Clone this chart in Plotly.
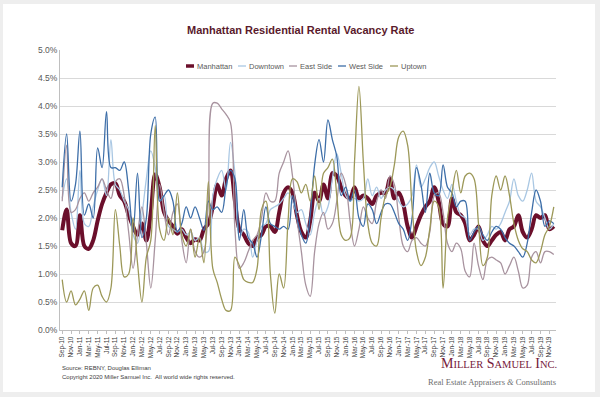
import pandas as pd
import plotly.graph_objects as go

months = list(pd.date_range("2010-09-01", periods=112, freq="MS").strftime("%b-%y"))

manhattan = [1.78, 2.15, 1.55, 1.50, 2.05, 1.50, 1.45, 1.60, 1.95, 2.25,
             2.45, 2.60, 2.62, 2.40, 2.30, 2.05, 1.85, 1.70, 1.90, 1.60,
             2.10, 2.78, 2.55, 2.10, 1.95, 1.85, 1.72, 1.80, 1.65, 1.55,
             1.62, 1.60, 1.80, 1.90, 2.20, 2.60, 2.40, 2.70, 2.85, 2.30,
             1.80, 1.70, 1.55, 1.50, 1.65, 1.70, 1.85, 1.85, 1.75, 2.10,
             2.45, 2.55, 2.45, 2.05, 1.75, 1.65, 1.95, 2.45, 2.30, 2.60,
             2.35, 2.80, 2.75, 2.55, 2.40, 2.35, 2.55, 2.35, 2.40, 2.35,
             2.25, 2.40, 2.45, 2.45, 2.70, 2.35, 2.45, 2.25, 1.85, 1.65,
             1.85, 2.05, 2.20, 2.30, 2.55, 2.30, 1.90, 1.85, 2.35, 2.10,
             2.05, 1.90, 1.60, 1.70, 1.85, 1.60, 1.50, 1.60, 1.70, 1.75,
             1.60, 1.80, 1.85, 2.05, 1.75, 1.65, 1.80, 2.05, 2.00, 2.05,
             1.80, 1.85]

downtown = [2.35, 2.70, 2.10, 1.80, 2.85, 1.90, 1.85, 2.20, 2.50, 2.70,
            2.40, 3.40, 2.60, 2.50, 2.30, 2.15, 1.70, 1.55, 2.05, 2.70,
            3.20, 2.90, 2.30, 2.40, 1.85, 1.80, 1.75, 1.80, 1.70, 1.75,
            1.60, 1.65, 1.40, 1.40, 2.40, 2.70, 2.85, 2.50, 3.35, 2.80,
            1.65, 1.80, 1.75, 1.30, 1.60, 1.85, 1.90, 2.15, 2.20, 2.25,
            2.35, 2.45, 2.30, 2.10, 2.15, 1.90, 1.70, 2.10, 2.35, 2.05,
            2.20, 2.70, 3.15, 2.80, 2.40, 2.30, 2.35, 2.30, 2.35, 2.70,
            2.40, 2.55, 2.35, 2.50, 2.55, 2.50, 2.30, 2.20, 2.25, 2.40,
            2.95, 2.55, 2.70, 2.90, 3.00, 2.75, 2.50, 2.35, 2.60, 2.30,
            2.05, 2.00, 1.70, 1.80, 1.80, 1.60, 1.70, 1.85, 1.80, 1.90,
            2.10, 2.30, 2.70, 2.40, 2.30, 2.50, 2.80, 2.30, 2.20, 2.00,
            1.80, 1.90]

east_side = [2.30, 3.30, 2.10, 2.15, 2.35, 2.45, 2.30, 2.45, 2.55, 2.70,
             2.50, 2.35, 2.65, 2.70, 2.40, 1.75, 1.10, 1.70, 2.20, 1.55,
             0.75, 1.60, 2.60, 2.10, 1.70, 2.10, 2.25, 1.60, 1.20, 1.80,
             1.40, 1.30, 1.40, 2.30, 4.05, 4.05, 3.95, 3.85, 3.70, 1.80,
             1.10, 1.20, 1.40, 1.60, 1.70, 2.00, 2.45, 2.30, 2.30, 2.80,
             3.00, 3.20, 2.75, 2.00, 1.40, 0.80, 0.60, 1.40, 1.90, 2.10,
             1.80, 1.90, 2.30, 2.80, 2.60, 1.95, 1.50, 1.80, 2.20, 2.00,
             1.90, 2.30, 2.50, 2.35, 2.75, 2.60, 2.00, 1.50, 1.40, 1.60,
             1.65, 1.55, 1.50, 1.75, 2.40, 2.45, 2.10, 1.55, 1.40, 1.55,
             1.45, 1.05, 0.95, 1.55, 1.15, 0.90, 1.25, 1.30, 1.25, 1.20,
             1.00, 1.15, 1.30, 1.05, 0.75, 0.80, 1.30, 1.40, 1.20, 1.40,
             1.40, 1.35]

west_side = [2.55, 3.50, 2.30, 2.60, 3.55, 2.05, 2.25, 2.00, 3.25, 2.90,
             3.90, 2.90, 2.90, 2.85, 3.00, 2.50, 1.75, 2.80, 1.65, 2.00,
             3.50, 3.80, 2.30, 2.40, 2.50, 2.30, 1.75, 1.90, 2.20, 2.00,
             2.20, 2.00, 1.78, 2.30, 2.15, 2.20, 2.10, 2.55, 2.85, 2.70,
             1.60, 2.15, 1.65, 1.55, 1.30, 1.70, 2.20, 1.90, 1.85, 1.80,
             1.85, 1.80, 2.40, 2.00, 1.70, 1.55, 2.05, 2.95, 3.40, 3.00,
             3.75, 3.40, 3.10, 2.40, 2.55, 2.30, 2.50, 2.00, 1.85, 2.25,
             2.15, 1.90, 2.10, 2.25, 2.25, 2.10, 1.90, 1.80, 1.60, 2.00,
             2.90, 2.60, 2.10, 2.80, 2.45, 2.40, 2.95, 2.55, 2.45, 2.20,
             2.30, 2.30, 1.60, 1.75, 1.85, 1.70, 1.60, 1.75, 1.85, 1.80,
             1.65, 1.55, 1.50, 1.40, 1.30, 1.55, 2.10, 2.50, 2.30, 1.85,
             1.95, 1.90]

uptown = [0.90, 0.50, 0.70, 0.45, 0.55, 0.70, 0.35, 0.75, 0.80, 0.60,
          0.50, 0.75, 2.15, 1.50, 0.95, 1.00, 2.00, 1.20, 0.50, 1.30,
          1.60, 3.65, 1.80, 1.60, 2.00, 1.70, 2.45, 1.70, 1.50, 1.80,
          1.30, 1.65, 1.20, 2.65, 1.10, 0.85, 0.55, 0.35, 0.35, 1.30,
          1.15, 0.90, 0.85, 0.85, 1.10, 2.15, 2.30, 1.00, 0.30, 1.00,
          0.75, 1.95, 2.70, 2.65, 2.45, 2.60, 2.30, 2.75, 2.15, 2.80,
          2.90, 3.05, 2.40, 1.70, 1.60, 1.65, 3.00, 4.35, 3.00, 1.90,
          1.55, 1.50, 2.00, 2.40, 2.55, 2.95, 3.45, 3.55, 3.30, 2.20,
          1.40, 1.15, 1.30, 1.80, 2.30, 2.20, 0.75, 2.00, 2.45, 2.85,
          2.45, 2.75, 2.80, 2.70, 1.90, 1.15, 1.30, 2.40, 2.75, 2.50,
          2.75, 2.40, 1.90, 1.60, 1.45, 1.40, 1.25, 1.20, 1.40, 1.70,
          1.85, 2.20]

series_names = ["Manhattan", "Downtown", "East Side", "West Side", "Uptown"]
series_values = [manhattan, downtown, east_side, west_side, uptown]
series_colors = ["#6B0F2B", "#A9C7E3", "#A8939F", "#3D6EA8", "#9C9858"]
series_widths = [4, 1.3, 1.3, 1.3, 1.3]

# plot area in pixels
L, R, T, B = 60, 556, 50, 330
W, H = R - L, B - T
def px(x):
    return (x - L) / W
def py(y):
    return (B - y) / H

fig = go.Figure()
for k in range(len(series_names)):
    fig.add_trace(go.Scatter(
        x=months, y=series_values[k], name=series_names[k], mode="lines",
        line=dict(color=series_colors[k], width=series_widths[k], shape="spline", smoothing=1.0),
        showlegend=False, hoverinfo="skip"))

tick_vals = months[::2]

fig.update_layout(
    width=600, height=397,
    margin=dict(l=L, r=600 - R, t=T, b=397 - B),
    paper_bgcolor="#EEEEEE", plot_bgcolor="white",
    font=dict(family="Liberation Sans, Arial, sans-serif", color="#595959"),
    xaxis=dict(type="category", categoryorder="array", categoryarray=months,
               range=[-0.5, len(months) - 0.5], tickmode="array",
               tickvals=tick_vals, ticktext=tick_vals, tickangle=-90,
               tickfont=dict(size=6.5, color="#404040"), showgrid=False,
               showline=True, linecolor="#BFBFBF", linewidth=1,
               ticks="outside", ticklen=3, tickcolor="#BFBFBF"),
    yaxis=dict(range=[0, 5], dtick=0.5, tickformat=".1f", ticksuffix="%",
               tickfont=dict(size=8.5, color="#595959"), showgrid=True,
               gridcolor="#D9D9D9", gridwidth=1, zeroline=False,
               showline=True, linecolor="#BFBFBF", linewidth=1, ticks=""),
)

shapes = [dict(type="rect", xref="paper", yref="paper",
               x0=px(3), x1=px(595), y0=py(392), y1=py(4),
               fillcolor="white", line=dict(width=0), layer="below")]

annotations = [dict(text="<b>Manhattan Residential Rental Vacancy Rate</b>",
                    xref="paper", yref="paper", x=px(300), y=py(30),
                    xanchor="center", yanchor="middle", showarrow=False,
                    font=dict(size=11, color="#5A1A2C", family="Liberation Sans, Arial"))]

legend_pos = [186, 238, 289, 338, 390]
for k, x0 in enumerate(legend_pos):
    shapes.append(dict(type="line", xref="paper", yref="paper",
                       x0=px(x0), x1=px(x0 + 8), y0=py(66), y1=py(66),
                       line=dict(color=series_colors[k], width=3.5 if k == 0 else 1.3)))
    annotations.append(dict(text=series_names[k], xref="paper", yref="paper",
                            x=px(x0 + 8.5), y=py(66), xanchor="left", yanchor="middle",
                            showarrow=False, font=dict(size=7.5, color="#595959")))

annotations += [
    dict(text="Source: REBNY, Douglas Elliman", xref="paper", yref="paper",
         x=px(60), y=py(368), xanchor="left", yanchor="middle", showarrow=False,
         font=dict(size=6, color="#404040")),
    dict(text="Copyright 2020 Miller Samuel Inc.  All world wide rights reserved.",
         xref="paper", yref="paper", x=px(60), y=py(377), xanchor="left",
         yanchor="middle", showarrow=False, font=dict(size=6, color="#404040")),
    dict(text="M<span style='font-size:10.5px'>ILLER</span> S<span style='font-size:10.5px'>AMUEL</span> I<span style='font-size:10.5px'>NC.</span>",
         xref="paper", yref="paper", x=px(559), y=py(363), xanchor="right",
         yanchor="middle", showarrow=False,
         font=dict(size=14, color="#76203A", family="Liberation Serif, Times New Roman, serif")),
    dict(text="Real Estate Appraisers <i>&amp;</i> Consultants",
         xref="paper", yref="paper", x=px(558), y=py(382), xanchor="right",
         yanchor="middle", showarrow=False,
         font=dict(size=8.5, color="#6E6E6E", family="Liberation Serif, Times New Roman, serif")),
]

fig.update_layout(shapes=shapes, annotations=annotations)
fig.write_html("out.html", config={"displayModeBar": False, "staticPlot": True},
               post_script="document.body.style.margin='0';")
